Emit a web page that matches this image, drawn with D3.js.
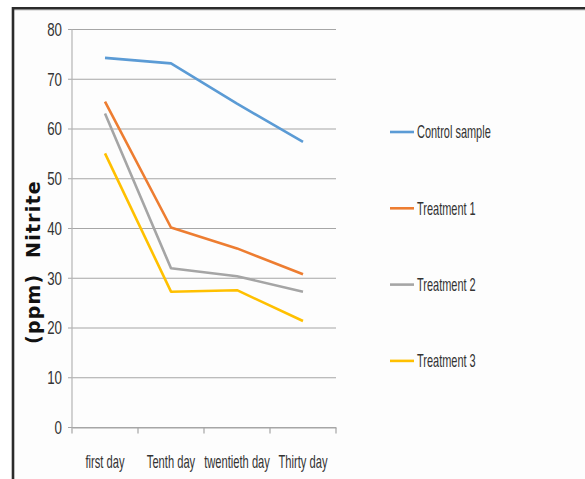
<!DOCTYPE html>
<html>
<head>
<meta charset="utf-8">
<script src="https://cdn.jsdelivr.net/npm/d3@7"></script>
<style>
  body { margin: 0; background: #fff; }
  svg { display: block; }
</style>
</head>
<body>
<script>
"use strict";
(function(){
    // data
    const days = ["first day", "Tenth day", "twentieth day", "Thirty day"]
    const seriesNames = ["Control sample", "Treatment 1", "Treatment 2", "Treatment 3"]
    const control = [74.3, 73.2, 65.1, 57.4]
    const treatment1 = [65.5, 40.2, 36.0, 30.8]
    const treatment2 = [63.1, 32.0, 30.4, 27.3]
    const treatment3 = [55.1, 27.3, 27.6, 21.4]
    const yTicks = [0, 10, 20, 30, 40, 50, 60, 70, 80]
    const colors = ["#5b9bd5", "#ed7d31", "#a5a5a5", "#ffc000"]

    const allSeries = [control, treatment1, treatment2, treatment3]

    const measurements = {
        width: 585,
        height: 479,
        left: 72,
        right: 336,
        top: 29.5,
        bottom: 427.5
    }
    const labelFont = '"Liberation Sans", Arial, sans-serif'

    // squeeze text sideways (the original uses a narrow font)
    function condense(sel, k) {
        sel.each(function() {
            const t = d3.select(this)
            const x = +t.attr('x') || 0
            t.attr('x', x / k).attr('transform', 'scale(' + k + ',1)')
        })
    }

    let svgContainer = d3.select('body').append("svg")
        .attr('width', measurements.width)
        .attr('height', measurements.height)

    // frame
    svgContainer.append('rect')
        .attr('x', 13).attr('y', 8)
        .attr('width', measurements.width).attr('height', measurements.height)
        .attr('fill', '#fdfdfd')
    svgContainer.append('line')
        .attr('x1', 13).attr('x2', 585).attr('y1', 10).attr('y2', 10)
        .attr('stroke', '#c8c8c8').attr('stroke-width', 1)
    svgContainer.append('path')
        .attr('d', 'M13,479 V8.3 H585')
        .attr('fill', 'none')
        .attr('stroke', '#2b2b2b')
        .attr('stroke-width', 2.6)

    let scaleX = d3.scaleBand()
        .domain(days)
        .range([measurements.left, measurements.right])
    let scaleY = d3.scaleLinear()
        .domain([0, 80])
        .range([measurements.bottom, measurements.top])

    // gridlines
    svgContainer.append('g')
        .selectAll('line')
        .data(yTicks)
        .enter()
        .append('line')
            .attr('x1', measurements.left - 4)
            .attr('x2', measurements.right)
            .attr('y1', (d) => scaleY(d))
            .attr('y2', (d) => scaleY(d))
            .attr('stroke', '#a6a6a6')
            .attr('stroke-width', 1.2)

    // y axis
    let yAxis = d3.axisLeft(scaleY)
        .tickValues(yTicks)
        .tickSize(0)
        .tickPadding(10)
    let gy = svgContainer.append('g')
        .attr('transform', 'translate(' + measurements.left + ',0)')
        .call(yAxis)
    gy.select('.domain').attr('stroke', '#b5b5b5').attr('stroke-width', 1.2)
        .attr('d', 'M0,' + measurements.top + 'V' + measurements.bottom)
    gy.selectAll('text')
        .attr('font-family', labelFont)
        .attr('font-size', 18)
        .attr('fill', '#333')
        .call(condense, 0.74)

    // x axis
    let xAxis = d3.axisBottom(scaleX)
        .tickSize(0)
        .tickPadding(28)
    let gx = svgContainer.append('g')
        .attr('transform', 'translate(0,' + measurements.bottom + ')')
        .call(xAxis)
    gx.select('.domain').attr('stroke', '#a6a6a6').attr('stroke-width', 1.2)
    gx.selectAll('text')
        .attr('font-family', labelFont)
        .attr('font-size', 18)
        .attr('fill', '#333')
        .call(condense, 0.62)
    // tick marks sit between categories
    const edges = days.map((d) => scaleX(d)).concat([measurements.right])
    gx.selectAll('.edge')
        .data(edges)
        .enter()
        .append('line')
            .attr('class', 'edge')
            .attr('x1', (d) => d).attr('x2', (d) => d)
            .attr('y1', 0).attr('y2', 6)
            .attr('stroke', '#a6a6a6')
            .attr('stroke-width', 1.2)

    // lines
    const line = d3.line()
        .x((d, i) => scaleX(days[i]) + scaleX.bandwidth() / 2)
        .y((d) => scaleY(d))
    svgContainer.append('g')
        .selectAll('path')
        .data(allSeries)
        .enter()
        .append('path')
            .attr('d', line)
            .attr('fill', 'none')
            .attr('stroke', (d, i) => colors[i])
            .attr('stroke-width', 2.6)
            .attr('stroke-linejoin', 'round')

    // y title
    svgContainer.append('text')
        .attr('transform', 'translate(40,262) rotate(-90)')
        .attr('text-anchor', 'middle')
        .attr('font-family', '"DejaVu Sans", sans-serif')
        .attr('font-weight', 'bold')
        .attr('font-size', 19)
        .attr('letter-spacing', 1.2)
        .attr('fill', '#111')
        .attr('xml:space', 'preserve')
        .text('(ppm)  Nitrite')

    // legend
    let legend = svgContainer.selectAll('.legend')
        .data(seriesNames)
        .enter().append('g')
        .attr('class', 'legend')
        .attr('transform', (d, i) => 'translate(390,' + (132 + i * 76.3) + ')')
    legend.append('line')
        .attr('x1', 0).attr('x2', 24)
        .attr('y1', 0).attr('y2', 0)
        .attr('stroke', (d, i) => colors[i])
        .attr('stroke-width', 2.6)
    legend.append('text')
        .attr('x', 27)
        .attr('dy', '0.36em')
        .attr('font-family', labelFont)
        .attr('font-size', 18)
        .attr('fill', '#333')
        .text((d) => d)
        .call(condense, 0.61)
})()
</script>
</body>
</html>
